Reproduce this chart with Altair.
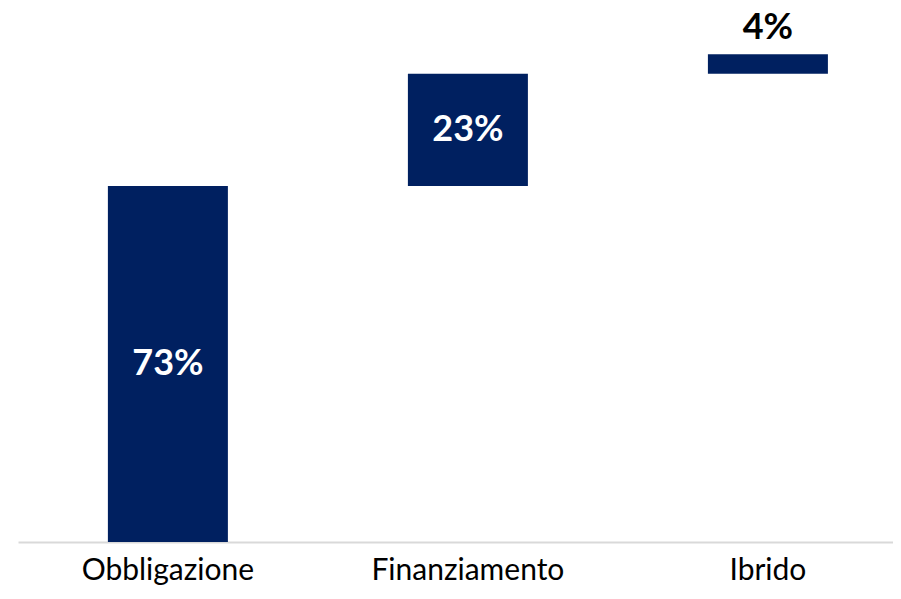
import altair as alt
import pandas as pd

categories = ["Obbligazione", "Finanziamento", "Ibrido"]
starts = [0, 73, 96]
ends = [73, 96, 100]
labels = ["73%", "23%", "4%"]

df = pd.DataFrame({"cat": categories, "start": starts, "end": ends, "label": labels})

x = alt.X("cat:N", sort=categories, title=None,
          scale=alt.Scale(paddingInner=0.6, paddingOuter=0.2583, align=0.58),
          axis=alt.Axis(labelAngle=0, labelFont="Lato", labelFontSize=30, labelColor="#000000",
                        labelPadding=13, labelLimit=400, ticks=False,
                        domainColor="#d9d9d9", domainWidth=2))
yscale = alt.Scale(domain=[0, 109.5], nice=False, zero=True)

base = alt.Chart(df).encode(x=x)

bars = base.mark_bar(color="#002060").encode(
    y=alt.Y("start:Q", scale=yscale, axis=None, title=None),
    y2="end:Q",
)

inside = base.transform_filter("datum.end - datum.start >= 10").transform_calculate(
    mid="(datum.start + datum.end) / 2"
).mark_text(font="Lato", fontWeight="bold", fontSize=36, color="white", baseline="middle").encode(
    y=alt.Y("mid:Q", scale=yscale, axis=None), text="label:N"
)

outside = base.transform_filter("datum.end - datum.start < 10").mark_text(
    font="Lato", fontWeight="bold", fontSize=36, color="black", baseline="middle", dy=-26
).encode(y=alt.Y("end:Q", scale=yscale, axis=None), text="label:N")

chart = alt.layer(bars, inside, outside).properties(
    width=875, height=534,
    autosize=alt.AutoSizeParams(type="none"),
    padding={"left": 10, "top": 0, "right": 0, "bottom": 45},
).configure_view(stroke=None)

chart.save("out.html", embed_options={"renderer": "svg", "actions": False})
